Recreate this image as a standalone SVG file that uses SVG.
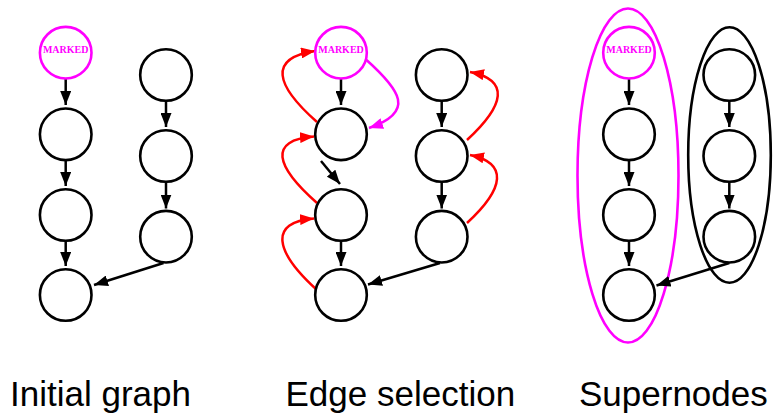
<svg xmlns="http://www.w3.org/2000/svg" width="776" height="418" viewBox="0 0 776 418">
<defs>
<style>
.n{fill:#fff;stroke:#000;stroke-width:2.6}
.m{fill:#fff;stroke:#ff00ff;stroke-width:2.6}
.mt{font-family:"Liberation Serif",serif;font-weight:bold;font-size:10px;fill:#ff00ff;text-anchor:middle}
.e{fill:none;stroke:#000;stroke-width:2.5;marker-end:url(#ab)}
.r{fill:none;stroke:#ff0000;stroke-width:2.5;marker-end:url(#ar)}
.p{fill:none;stroke:#ff00ff;stroke-width:2.5;marker-end:url(#ap)}
.lbl{font-family:"Liberation Sans",Arial,sans-serif;font-size:35px;fill:#000}
.ell{fill:none;stroke-width:2.6}
</style>
<marker id="ab" markerUnits="userSpaceOnUse" markerWidth="14" markerHeight="11" refX="14" refY="5.5" orient="auto"><path d="M0,0 L14,5.5 L0,11 z" fill="#000"/></marker>
<marker id="ar" markerUnits="userSpaceOnUse" markerWidth="14" markerHeight="11" refX="14" refY="5.5" orient="auto"><path d="M0,0 L14,5.5 L0,11 z" fill="#ff0000"/></marker>
<marker id="ap" markerUnits="userSpaceOnUse" markerWidth="14" markerHeight="11" refX="14" refY="5.5" orient="auto"><path d="M0,0 L14,5.5 L0,11 z" fill="#ff00ff"/></marker>
</defs>
<rect width="776" height="418" fill="#fff"/>

<g id="supernode-ellipses">
<ellipse cx="628" cy="175.5" rx="50.5" ry="167" class="ell" stroke="#ff00ff"/>
<ellipse cx="729.5" cy="155" rx="41.3" ry="127.7" class="ell" stroke="#000"/>
</g>

<g id="connectors">
<line x1="65.7" y1="79" x2="65.7" y2="105" class="e"/>
<line x1="65.7" y1="160" x2="65.7" y2="186" class="e"/>
<line x1="65.7" y1="241" x2="65.7" y2="266" class="e"/>
<line x1="166" y1="101" x2="166" y2="127" class="e"/>
<line x1="166" y1="182" x2="166" y2="208.5" class="e"/>
<line x1="163.5" y1="263" x2="94" y2="285" class="e"/>
<line x1="341" y1="79" x2="341" y2="105" class="e"/>
<line x1="321" y1="161" x2="340" y2="184" class="e"/>
<line x1="341" y1="241" x2="341" y2="266" class="e"/>
<line x1="441.7" y1="101" x2="441.7" y2="127" class="e"/>
<line x1="441.7" y1="182" x2="441.7" y2="208.5" class="e"/>
<line x1="440" y1="263" x2="368" y2="284.5" class="e"/>
<path d="M317,122 C275,85 268,58 315,51" class="r"/>
<path d="M317,203 C275,166 268,140 314,136.5" class="r"/>
<path d="M317,290 C275,252 268,222 314,218.5" class="r"/>
<path d="M467,140 C505,105 510,80 470,72" class="r"/>
<path d="M467,223 C505,188 508,163 470,155" class="r"/>
<path d="M366.5,60 C400,90 416,112 369,128" class="p"/>
<line x1="629" y1="79" x2="629" y2="105" class="e"/>
<line x1="629" y1="160" x2="629" y2="186" class="e"/>
<line x1="629" y1="241" x2="629" y2="266" class="e"/>
<line x1="729.3" y1="101" x2="729.3" y2="127" class="e"/>
<line x1="729.3" y1="182" x2="729.3" y2="208.5" class="e"/>
<line x1="729.3" y1="263" x2="656.5" y2="285.5" class="e"/>
</g>

<g id="p1-marked"><circle cx="65.7" cy="52.7" r="25.8" class="m"/><text x="65.7" y="53" class="mt">MARKED</text></g>
<g id="p1-a2"><circle cx="65.7" cy="134.3" r="25.8" class="n"/></g>
<g id="p1-a3"><circle cx="65.7" cy="215" r="25.8" class="n"/></g>
<g id="p1-a4"><circle cx="65.7" cy="295" r="25.8" class="n"/></g>
<g id="p1-b1"><circle cx="166" cy="75" r="25.8" class="n"/></g>
<g id="p1-b2"><circle cx="166" cy="156" r="25.8" class="n"/></g>
<g id="p1-b3"><circle cx="166" cy="236.7" r="25.8" class="n"/></g>

<g id="p2-marked"><circle cx="341" cy="52.7" r="25.8" class="m"/><text x="341" y="53" class="mt">MARKED</text></g>
<g id="p2-a2"><circle cx="341" cy="134.3" r="25.8" class="n"/></g>
<g id="p2-a3"><circle cx="341" cy="215" r="25.8" class="n"/></g>
<g id="p2-a4"><circle cx="341" cy="295" r="25.8" class="n"/></g>
<g id="p2-b1"><circle cx="441.7" cy="75" r="25.8" class="n"/></g>
<g id="p2-b2"><circle cx="441.7" cy="156" r="25.8" class="n"/></g>
<g id="p2-b3"><circle cx="441.7" cy="236.7" r="25.8" class="n"/></g>

<g id="p3-marked"><circle cx="629" cy="52.7" r="25.8" class="m"/><text x="629" y="53" class="mt">MARKED</text></g>
<g id="p3-a2"><circle cx="629" cy="134.3" r="25.8" class="n"/></g>
<g id="p3-a3"><circle cx="629" cy="215" r="25.8" class="n"/></g>
<g id="p3-a4"><circle cx="629" cy="295" r="25.8" class="n"/></g>
<g id="p3-b1"><circle cx="729.3" cy="75" r="25.8" class="n"/></g>
<g id="p3-b2"><circle cx="729.3" cy="156" r="25.8" class="n"/></g>
<g id="p3-b3"><circle cx="729.3" cy="236.7" r="25.8" class="n"/></g>

<g id="labels">
<text x="10" y="406" class="lbl">Initial graph</text>
<text x="285.5" y="406" class="lbl">Edge selection</text>
<text x="579" y="406" class="lbl">Supernodes</text>
</g>
</svg>
